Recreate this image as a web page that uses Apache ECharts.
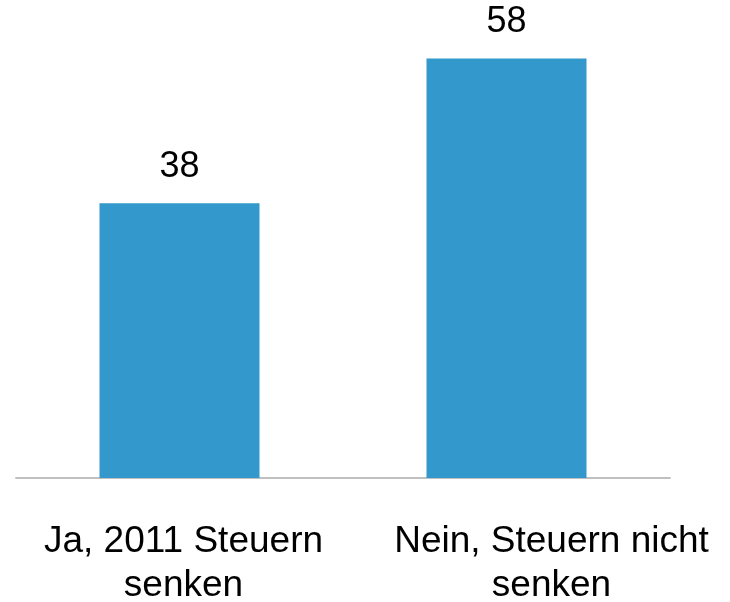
<!DOCTYPE html>
<html>
<head>
<meta charset="utf-8">
<script src="https://cdn.jsdelivr.net/npm/echarts@6/dist/echarts.min.js"></script>
<style>
  html, body { margin: 0; padding: 0; background: #fff; }
  #chart { width: 730px; height: 602px; }
</style>
</head>
<body>
<div id="chart"></div>
<script>
const categories = ['Ja, 2011 Steuern\nsenken', 'Nein, Steuern nicht\nsenken'];
const values = [38, 58];

// labels in the original sit a little right of the bar centres
const labelShift = [8, 90];

const chart = echarts.init(document.getElementById('chart'));

chart.setOption({
  animation: false,
  grid: { left: 16, right: 60, top: 44, bottom: 124, outerBoundsMode: 'none', containLabel: false },
  xAxis: {
    type: 'category',
    data: categories.map((c, i) => ({
      value: c,
      textStyle: { padding: [0, 0, 0, labelShift[i]] }
    })),
    axisLine: { lineStyle: { color: '#c0c0c0', width: 2 } },
    axisTick: { show: false },
    axisLabel: {
      interval: 0,
      margin: 42,
      color: '#000',
      fontFamily: 'Liberation Sans, Arial, sans-serif',
      fontSize: 37,
      lineHeight: 44
    }
  },
  yAxis: {
    type: 'value',
    min: 0,
    max: 60,
    show: false,
    splitLine: { show: false }
  },
  series: [{
    type: 'bar',
    data: values,
    barWidth: 160,
    itemStyle: { color: '#3399cc' },
    label: {
      show: true,
      position: 'top',
      distance: 18,
      color: '#000',
      fontFamily: 'Liberation Sans, Arial, sans-serif',
      fontSize: 36,
      lineHeight: 36
    }
  }]
});
</script>
</body>
</html>
